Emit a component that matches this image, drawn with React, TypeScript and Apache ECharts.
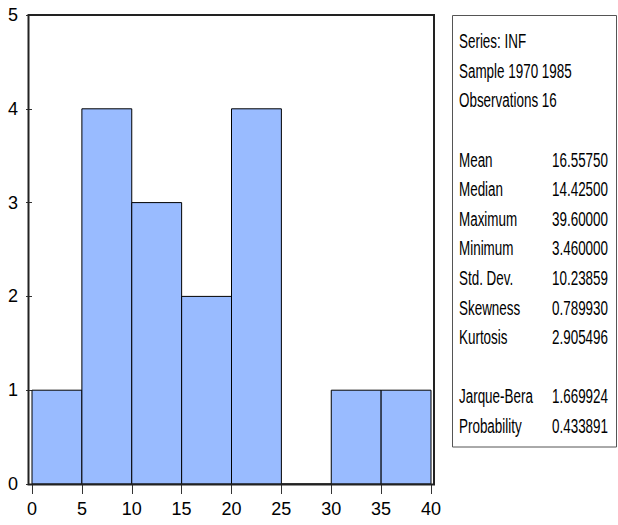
import React, { useEffect, useRef } from "react";
import * as echarts from "echarts";

const binStarts = [0, 5, 10, 15, 20, 25, 30, 35];
const binWidth = 5;
const counts = [1, 4, 3, 2, 4, 0, 1, 1];

const headerLines = ["Series: INF", "Sample 1970 1985", "Observations 16"];
const statLabels = ["Mean", "Median", "Maximum", "Minimum", "Std. Dev.", "Skewness", "Kurtosis"];
const statValues = ["16.55750", "14.42500", "39.60000", "3.460000", "10.23859", "0.789930", "2.905496"];
const testLabels = ["Jarque-Bera", "Probability"];
const testValues = ["1.669924", "0.433891"];

const FONT = "'Liberation Sans', Arial, sans-serif";

export default function App() {
  const ref = useRef<HTMLDivElement>(null);
  useEffect(() => {
    document.body.style.margin = "0";
    const chart = echarts.init(ref.current!, null, { renderer: "svg" });

    const lineH = 29.6;
    const y0 = 41;
    const sx = 0.64;
    const texts: any[] = [];
    const addLine = (row: number, left: string, right?: string) => {
      const y = y0 + row * lineH;
      texts.push({
        type: "text",
        x: 459,
        y: y,
        scaleX: sx,
        style: { text: left, font: `21px ${FONT}`, fill: "#000", align: "left", verticalAlign: "middle" },
      });
      if (right !== undefined) {
        texts.push({
          type: "text",
          x: 608,
          y: y,
          scaleX: sx,
          style: { text: right, font: `21px ${FONT}`, fill: "#000", align: "right", verticalAlign: "middle" },
        });
      }
    };
    headerLines.forEach((t, i) => addLine(i, t));
    statLabels.forEach((t, i) => addLine(4 + i, t, statValues[i]));
    testLabels.forEach((t, i) => addLine(12 + i, t, testValues[i]));

    const data = binStarts.map((s, i) => [s, s + binWidth, counts[i]]);

    chart.setOption({
      animation: false,
      backgroundColor: "#fff",
      grid: { left: 32, right: 187, top: 15, bottom: 41 },
      xAxis: {
        type: "value",
        min: 0,
        max: 40,
        interval: 5,
        splitLine: { show: false },
        axisLine: { show: false },
        axisTick: { show: true, length: 10, lineStyle: { color: "#333", width: 1 } },
        axisLabel: { color: "#000", fontFamily: FONT, fontSize: 18, margin: 16 },
      },
      yAxis: {
        type: "value",
        min: 0,
        max: 5,
        interval: 1,
        offset: 4,
        splitLine: { show: false },
        axisLine: { show: false },
        axisTick: { show: true, length: 6, lineStyle: { color: "#333", width: 1 } },
        axisLabel: { color: "#000", fontFamily: FONT, fontSize: 18, margin: 10 },
      },
      series: [
        {
          type: "custom",
          data,
          encode: { x: [0, 1], y: 2 },
          renderItem: (params: any, api: any) => {
            const a = api.coord([api.value(0), api.value(2)]);
            const b = api.coord([api.value(1), 0]);
            return {
              type: "rect",
              shape: { x: a[0], y: a[1], width: b[0] - a[0], height: b[1] - a[1] },
              style: { fill: "#99bbff", stroke: "#000", lineWidth: 1 },
            };
          },
        },
      ],
      graphic: [
        {
          type: "rect",
          shape: { x: 28.5, y: 15, width: 405.5, height: 469.5 },
          style: { fill: "none", stroke: "#222", lineWidth: 2 },
          z: 100,
        },
        {
          type: "rect",
          shape: { x: 452.5, y: 15.5, width: 164, height: 431.5 },
          style: { fill: "none", stroke: "#555", lineWidth: 1 },
        },
        ...texts,
      ],
    });
    return () => chart.dispose();
  }, []);
  return <div ref={ref} style={{ width: 618, height: 525 }} />;
}
